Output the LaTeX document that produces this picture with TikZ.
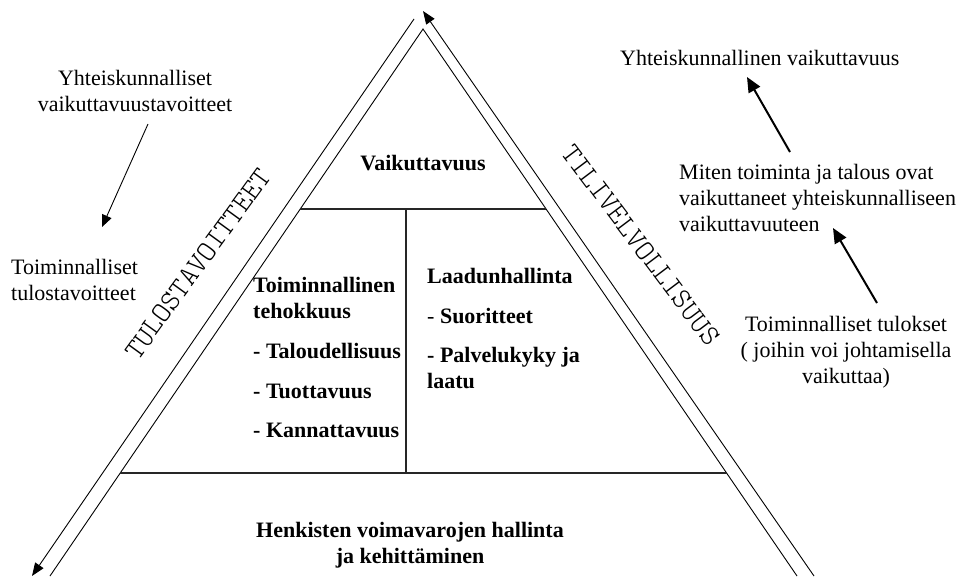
\documentclass[tikz,border=0pt]{standalone}
\usepackage{fontspec}
\setmainfont{Liberation Serif}
\newfontfamily\sidemono{lmmonolt10-regular}[Extension=.otf]
\usetikzlibrary{arrows.meta,calc}
\begin{document}
\begin{tikzpicture}[x=1pt,y=-1pt,
  edge/.style={line width=0.9pt},
  divider/.style={line width=1.1pt,black!85},
  sidearrow/.style={edge,-{Triangle[length=13pt,width=10pt]}},
  thinarrow/.style={line width=0.9pt,-{Triangle[length=12pt,width=10pt]}},
  thickarrow/.style={line width=2pt,-{Triangle[length=15pt,width=13pt]}},
  txt/.style={inner sep=0pt,font=\fontsize{22}{26}\selectfont},
  boldtxt/.style={inner sep=0pt,font=\fontsize{22}{26}\selectfont\bfseries},
  sidetxt/.style={inner sep=0pt,font=\fontsize{29}{32}\selectfont\sidemono},
]
\useasboundingbox (0,0) rectangle (960,576);

% inner triangle
\coordinate (apex) at (423,29);
\coordinate (baseL) at (50,576);
\coordinate (baseR) at (797,576);
\draw[edge] (baseL) -- (apex) -- (baseR);

% level dividers
\coordinate (upL) at ($(apex)!0.3291!(baseL)$);
\coordinate (upR) at ($(apex)!0.3291!(baseR)$);
\coordinate (lowL) at ($(apex)!0.8117!(baseL)$);
\coordinate (lowR) at ($(apex)!0.8117!(baseR)$);
\coordinate (midT) at (406,209);
\coordinate (midB) at (406,473);
\draw[divider] (upL) -- (upR);
\draw[divider] (lowL) -- (lowR);
\draw[divider] (midT) -- (midB);

% outer arrows along the sides
\coordinate (outLtop) at (414,19);
\coordinate (outLtip) at (32,576);
\coordinate (outRbot) at (814,576);
\coordinate (outRtip) at (423,11);
\draw[sidearrow] (outLtop) -- (outLtip);
\draw[sidearrow] (outRbot) -- (outRtip);

% side labels
\node[sidetxt,rotate=54] (tulos) at (198,264) {TULOSTAVOITTEET};
\node[sidetxt,rotate=-53] (tili) at (641,245) {TILIVELVOLLISUUS};

% texts inside the pyramid
\node[boldtxt,anchor=base] (vaik) at (423,170) {Vaikuttavuus};
\node[boldtxt,anchor=base west] (tehok) at (253,292)
  {\begin{tabular}[t]{@{}l@{}}Toiminnallinen\\ tehokkuus\\[14pt]
   - Taloudellisuus\\[14pt] - Tuottavuus\\[13pt] - Kannattavuus\end{tabular}};
\node[boldtxt,anchor=base west] (laatu) at (427,283)
  {\begin{tabular}[t]{@{}l@{}}Laadunhallinta\\[14pt]
   {\mdseries -} Suoritteet\\[13pt] - Palvelukyky ja\\ laatu\end{tabular}};
\node[boldtxt,anchor=base] (henk) at (410,537)
  {\begin{tabular}[t]{@{}c@{}}Henkisten voimavarojen hallinta\\ ja kehittäminen\end{tabular}};

% texts on the left
\node[txt,anchor=base] (yhtav) at (135,85)
  {\begin{tabular}[t]{@{}c@{}}Yhteiskunnalliset\\ vaikuttavuustavoitteet\end{tabular}};
\node[txt,anchor=base west] (toimtav) at (11,274)
  {\begin{tabular}[t]{@{}l@{}}Toiminnalliset\\ tulostavoitteet\end{tabular}};
\coordinate (l1s) at (148,124);
\coordinate (l1e) at (102,227);
\draw[thinarrow] (l1s) -- (l1e);

% texts on the right
\node[txt,anchor=base west] (yhtvaik) at (620,65) {Yhteiskunnallinen vaikuttavuus};
\node[txt,anchor=base west] (miten) at (679,179)
  {\begin{tabular}[t]{@{}l@{}}Miten toiminta ja talous ovat\\ vaikuttaneet yhteiskunnalliseen\\ vaikuttavuuteen\end{tabular}};
\node[txt,anchor=base] (tulokset) at (846,331)
  {\begin{tabular}[t]{@{}c@{}}Toiminnalliset tulokset\\ ( joihin voi johtamisella\\ vaikuttaa)\end{tabular}};
\coordinate (r1s) at (790,152);
\coordinate (r1e) at (747,77);
\coordinate (r2s) at (877,303);
\coordinate (r2e) at (833,228);
\draw[thickarrow] (r1s) -- (r1e);
\draw[thickarrow] (r2s) -- (r2e);
\end{tikzpicture}
\end{document}
